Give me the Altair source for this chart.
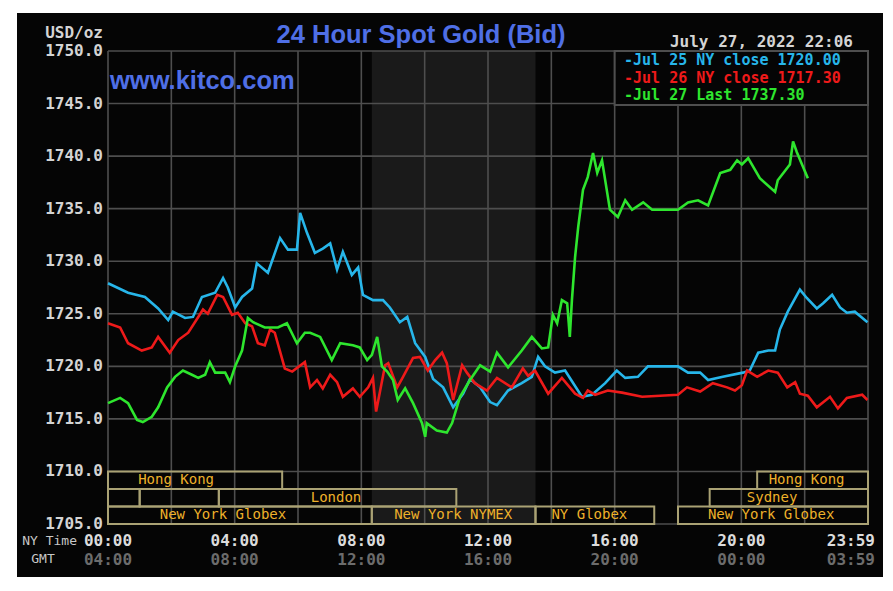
import altair as alt
import pandas as pd

# ---------------- data ----------------
# Jul 25 (cyan) : minutes after NY midnight, price
jul25_min = [0, 38, 70, 95, 114, 123, 146, 161, 178, 203, 218, 227, 241, 254, 273, 282, 303, 326, 341, 358,
             364, 377, 392, 407, 421, 434, 445, 462, 474, 483, 502, 521, 534, 553, 567, 582, 601, 616, 635,
             654, 673, 686, 705, 724, 737, 758, 784, 803, 815, 828, 847, 866, 898, 917, 942, 964, 980, 1004,
             1023, 1080, 1099, 1122, 1137, 1165, 1203, 1216, 1232, 1251, 1264, 1273, 1288, 1311, 1324, 1343,
             1355, 1372, 1387, 1400, 1415, 1439]
jul25_px = [1727.9, 1727.0, 1726.6, 1725.5, 1724.4, 1725.2, 1724.6, 1724.7, 1726.6, 1727.0, 1728.4, 1727.5,
            1725.6, 1726.6, 1727.4, 1729.8, 1728.9, 1732.2, 1731.1, 1731.1, 1734.6, 1732.7, 1730.8, 1731.2,
            1731.7, 1729.2, 1730.9, 1728.7, 1729.4, 1726.8, 1726.3, 1726.3, 1725.6, 1724.2, 1724.7, 1722.2,
            1720.9, 1718.8, 1718.0, 1716.1, 1717.4, 1718.8, 1718.0, 1716.6, 1716.3, 1717.7, 1718.4, 1719.0,
            1720.9, 1720.0, 1719.4, 1719.6, 1717.1, 1717.3, 1718.4, 1719.6, 1718.9, 1719.0, 1720.0, 1720.0,
            1719.4, 1719.4, 1718.7, 1719.0, 1719.4, 1719.6, 1721.3, 1721.5, 1721.5, 1723.5, 1725.2, 1727.3,
            1726.5, 1725.5, 1726.0, 1726.8, 1725.6, 1725.1, 1725.2, 1724.2]

# Jul 26 (red)
jul26_min = [0, 23, 38, 64, 83, 95, 117, 133, 152, 171, 180, 189, 207, 218, 235, 246, 260, 273, 284, 297,
             307, 316, 335, 349, 373, 383, 396, 407, 421, 434, 445, 464, 477, 493, 502, 508, 525, 531, 548,
             559, 578, 591, 606, 620, 633, 642, 654, 671, 680, 695, 718, 737, 765, 786, 796, 809, 834, 860,
             885, 900, 909, 923, 947, 974, 1012, 1080, 1097, 1122, 1146, 1173, 1188, 1201, 1211, 1230, 1251,
             1269, 1287, 1302, 1311, 1326, 1343, 1368, 1383, 1400, 1429, 1439]
jul26_px = [1724.1, 1723.7, 1722.2, 1721.5, 1721.8, 1722.8, 1721.3, 1722.5, 1723.2, 1724.7, 1725.4, 1725.0,
            1726.8, 1726.6, 1724.9, 1725.1, 1724.1, 1723.8, 1722.2, 1722.0, 1723.5, 1723.2, 1719.8, 1719.5,
            1720.4, 1718.0, 1718.7, 1717.9, 1719.2, 1718.5, 1717.1, 1717.9, 1717.1, 1718.0, 1718.9, 1715.7,
            1720.1, 1720.3, 1718.0, 1719.0, 1720.8, 1720.9, 1719.6, 1720.6, 1721.3, 1720.3, 1716.8, 1720.1,
            1719.4, 1718.4, 1717.7, 1718.9, 1718.0, 1719.8, 1719.1, 1719.6, 1717.4, 1718.9, 1717.4, 1717.0,
            1717.7, 1717.3, 1717.7, 1717.5, 1717.1, 1717.3, 1718.0, 1717.6, 1718.4, 1718.0, 1717.7, 1718.2,
            1719.6, 1719.0, 1719.6, 1719.4, 1718.0, 1718.5, 1717.4, 1717.2, 1716.1, 1717.1, 1716.0, 1717.0,
            1717.3, 1716.8]

# Jul 27 (green)
jul27_min = [0, 23, 38, 55, 66, 83, 95, 112, 127, 142, 159, 171, 184, 193, 203, 222, 231, 241, 254, 260,
             265, 275, 297, 322, 339, 358, 373, 383, 402, 424, 440, 464, 477, 491, 500, 510, 519, 529, 540,
             549, 563, 578, 595, 601, 604, 623, 642, 652, 667, 686, 705, 724, 737, 758, 784, 803, 822, 834,
             843, 851, 860, 870, 875, 879, 885, 891, 900, 909, 919, 927, 936, 951, 966, 980, 993, 1014, 1031,
             1080, 1099, 1118, 1137, 1160, 1179, 1192, 1201, 1213, 1235, 1264, 1269, 1292, 1298, 1305, 1326]
jul27_px = [1716.5, 1717.0, 1716.5, 1714.9, 1714.7, 1715.2, 1716.1, 1718.0, 1719.0, 1719.6, 1719.2, 1718.9,
            1719.2, 1720.4, 1719.4, 1719.4, 1718.5, 1720.0, 1721.5, 1723.2, 1724.6, 1724.2, 1723.7, 1723.7,
            1724.1, 1722.2, 1723.2, 1723.2, 1722.8, 1720.6, 1722.2, 1722.0, 1721.8, 1720.6, 1721.1, 1722.8,
            1720.0, 1719.5, 1718.7, 1716.8, 1717.9, 1716.5, 1714.6, 1713.3, 1714.6, 1713.9, 1713.7, 1714.6,
            1717.1, 1718.7, 1720.1, 1719.5, 1721.3, 1719.9, 1721.5, 1722.8, 1721.7, 1721.8, 1724.9, 1724.1,
            1726.3, 1726.0, 1722.8, 1726.3, 1730.4, 1733.3, 1736.8, 1738.0, 1740.3, 1738.4, 1739.6, 1734.9,
            1734.2, 1735.8, 1734.9, 1735.6, 1734.9, 1734.9, 1735.6, 1735.8, 1735.3, 1738.4, 1738.7, 1739.6,
            1739.2, 1739.8, 1737.9, 1736.6, 1737.7, 1739.2, 1741.4, 1740.4, 1737.9]

series_names = ["Jul 25", "Jul 26", "Jul 27"]
series_colors = ["#27b6ea", "#ee1a1a", "#2ee62e"]
legend_texts = ["-Jul 25 NY close 1720.00", "-Jul 26 NY close 1717.30", "-Jul 27 Last 1737.30"]

# axis ticks
price_ticks = [1750, 1745, 1740, 1735, 1730, 1725, 1720, 1715, 1710, 1705]
grid_hours = [0, 2, 4, 6, 8, 10, 12, 14, 16, 18, 20, 22, 24]
ny_hours = [0, 4, 8, 12, 16, 20]
ny_labels = ["00:00", "04:00", "08:00", "12:00", "16:00", "20:00"]
gmt_labels = ["04:00", "08:00", "12:00", "16:00", "20:00", "00:00"]
end_ny_label = "23:59"
end_gmt_label = "03:59"

# market sessions (hours NY time), row 1 = top row
sess_names = ["Hong Kong", "", "", "London", "New York Globex", "New York NYMEX", "NY Globex",
              "New York Globex", "Sydney", "Hong Kong"]
sess_start = [0, 0, 1, 3.5, 0, 8.33, 13.5, 18, 19, 20.5]
sess_end = [5.5, 1, 3.5, 11, 8.33, 13.5, 17.25, 24, 24, 24]
sess_row = [1, 2, 2, 2, 3, 3, 3, 3, 2, 1]
sess_label_at = [2.15, 0.5, 2.25, 7.2, 3.63, 10.9, 15.2, 20.94, 20.97, 22.06]
nymex_open, nymex_close = 8.33, 13.5

# ---------------- tables ----------------
rows = []
for name, mins, pxs in zip(series_names, [jul25_min, jul26_min, jul27_min], [jul25_px, jul26_px, jul27_px]):
    for m, p in zip(mins, pxs):
        rows.append({"series": name, "h": m / 60.0, "price": p})
lines_df = pd.DataFrame(rows)

row_top = {1: 1710.0, 2: 1708.333, 3: 1706.667}
sess_df = pd.DataFrame({
    "name": sess_names, "x1": sess_start, "x2": sess_end,
    "y1": [row_top[r] for r in sess_row], "y2": [row_top[r] - 1.667 for r in sess_row],
    "ym": [row_top[r] - 0.833 for r in sess_row], "lx": sess_label_at,
})
one = pd.DataFrame({"k": [0]})

W, H = 760, 473
xs = alt.Scale(domain=[0, 24], nice=False, zero=False)
ys = alt.Scale(domain=[1705, 1750], nice=False, zero=False)
MONO = "DejaVu Sans Mono"
GRID = "#4e4e4e"
BOXC = "#aaa274"
LABC = "#eeb12a"
BLUE = "#4f6fe6"

layers = []
# black board
layers.append(alt.Chart(one).mark_rect(color="#050505").encode(
    x=alt.value(-91), x2=alt.value(775), y=alt.value(-38), y2=alt.value(526)))
# NYMEX shading
layers.append(alt.Chart(pd.DataFrame({"a": [nymex_open], "b": [nymex_close]})).mark_rect(color="#1a1a1a").encode(
    x=alt.X("a:Q", scale=xs, axis=None), x2="b:Q", y=alt.value(0), y2=alt.value(H)))
# grid
layers.append(alt.Chart(pd.DataFrame({"h": grid_hours})).mark_rule(color=GRID, strokeWidth=1.6).encode(
    x=alt.X("h:Q", scale=xs, axis=None), y=alt.value(0), y2=alt.value(H)))
layers.append(alt.Chart(pd.DataFrame({"p": price_ticks})).mark_rule(color=GRID, strokeWidth=1.6).encode(
    y=alt.Y("p:Q", scale=ys, axis=None), x=alt.value(0), x2=alt.value(W)))
# sessions
layers.append(alt.Chart(sess_df).mark_rect(fillOpacity=0, fill="black", stroke=BOXC, strokeWidth=2).encode(
    x=alt.X("x1:Q", scale=xs, axis=None), x2="x2:Q",
    y=alt.Y("y1:Q", scale=ys, axis=None), y2="y2:Q"))
layers.append(alt.Chart(sess_df).mark_text(font=MONO, fontSize=14, color=LABC, baseline="middle").encode(
    x=alt.X("lx:Q", scale=xs, axis=None), y=alt.Y("ym:Q", scale=ys, axis=None), text="name:N"))
# price lines
layers.append(alt.Chart(lines_df).mark_line(strokeWidth=2.6).encode(
    x=alt.X("h:Q", scale=xs, axis=None), y=alt.Y("price:Q", scale=ys, axis=None),
    color=alt.Color("series:N", scale=alt.Scale(domain=series_names, range=series_colors), legend=None)))
# legend box
layers.append(alt.Chart(pd.DataFrame({"a": [16.0], "b": [24.0], "c": [1750.0], "d": [1744.86]})).mark_rect(
    fill="#050505", stroke=GRID, strokeWidth=2).encode(
    x=alt.X("a:Q", scale=xs, axis=None), x2="b:Q", y=alt.Y("c:Q", scale=ys, axis=None), y2="d:Q"))
for txt, col, yy in zip(legend_texts, series_colors, [9, 26.5, 44]):
    layers.append(alt.Chart(one).mark_text(text=txt, font=MONO, fontSize=15, fontWeight="bold", align="left",
                                           baseline="middle", color=col).encode(
        x=alt.value(516), y=alt.value(yy)))
# y labels
layers.append(alt.Chart(pd.DataFrame({"p": price_ticks})).mark_text(
    font=MONO, fontSize=16, fontWeight="bold", color="#d4d4d4", align="right", baseline="middle").encode(
    y=alt.Y("p:Q", scale=ys, axis=None), x=alt.value(-5), text=alt.Text("p:Q", format=".1f")))
layers.append(alt.Chart(one).mark_text(text="USD/oz", font=MONO, fontSize=16, fontWeight="bold",
                                       color="#d4d4d4", align="right", baseline="middle").encode(
    x=alt.value(-5), y=alt.value(-18)))
# x labels
xl = pd.DataFrame({"h": ny_hours, "ny": ny_labels, "gmt": gmt_labels})
layers.append(alt.Chart(xl).mark_text(font=MONO, fontSize=16, fontWeight="bold", color="#dcdcdc",
                                      baseline="middle").encode(
    x=alt.X("h:Q", scale=xs, axis=None), y=alt.value(H + 17), text="ny:N"))
layers.append(alt.Chart(xl).mark_text(font=MONO, fontSize=16, fontWeight="bold", color="#6c6c6c",
                                      baseline="middle").encode(
    x=alt.X("h:Q", scale=xs, axis=None), y=alt.value(H + 36), text="gmt:N"))
xe = pd.DataFrame({"h": [24], "ny": [end_ny_label], "gmt": [end_gmt_label]})
layers.append(alt.Chart(xe).mark_text(font=MONO, fontSize=16, fontWeight="bold", color="#dcdcdc",
                                      baseline="middle", align="right", dx=7).encode(
    x=alt.X("h:Q", scale=xs, axis=None), y=alt.value(H + 17), text="ny:N"))
layers.append(alt.Chart(xe).mark_text(font=MONO, fontSize=16, fontWeight="bold", color="#6c6c6c",
                                      baseline="middle", align="right", dx=7).encode(
    x=alt.X("h:Q", scale=xs, axis=None), y=alt.value(H + 36), text="gmt:N"))
layers.append(alt.Chart(one).mark_text(text="NY Time", font=MONO, fontSize=13, color="#c8c8c8",
                                       align="right", baseline="middle").encode(
    x=alt.value(-31), y=alt.value(H + 17)))
layers.append(alt.Chart(one).mark_text(text="GMT", font=MONO, fontSize=13, color="#c8c8c8",
                                       align="center", baseline="middle").encode(
    x=alt.value(-65), y=alt.value(H + 35)))
# titles
layers.append(alt.Chart(one).mark_text(text="24 Hour Spot Gold (Bid)", font="Liberation Sans", fontSize=25.5,
                                       fontWeight="bold", color=BLUE, align="center", baseline="middle").encode(
    x=alt.value(313), y=alt.value(-16)))
layers.append(alt.Chart(one).mark_text(text="www.kitco.com", font="Liberation Sans", fontSize=25.5,
                                       fontWeight="bold", color=BLUE, align="left",
                                       baseline="alphabetic").encode(
    x=alt.value(2), y=alt.value(38)))
layers.append(alt.Chart(one).mark_text(text="July 27, 2022 22:06", font=MONO, fontSize=16, fontWeight="bold",
                                       color="#d4d4d4", align="right", baseline="middle").encode(
    x=alt.value(745), y=alt.value(-9)))

chart = alt.layer(*layers).properties(
    width=W, height=H, background="white",
    autosize=alt.AutoSizeParams(type="none"),
    padding={"left": 100, "top": 43, "right": 17, "bottom": 59},
).configure_view(stroke=None)

chart.save("out.html", embed_options={"renderer": "svg", "actions": False})
